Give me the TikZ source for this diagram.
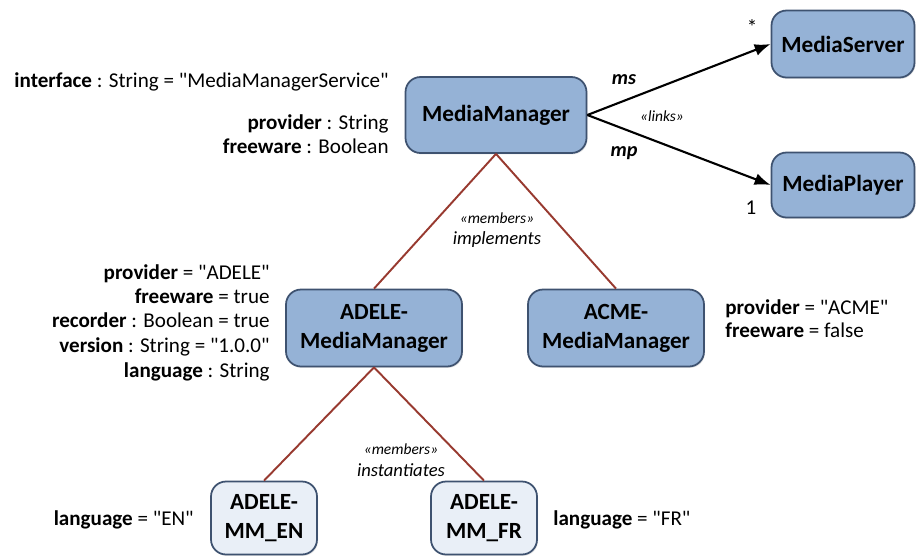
\documentclass[tikz,border=0pt]{standalone}
\usepackage{fontspec}
\setmainfont{Carlito}
\usetikzlibrary{arrows.meta, shadows}
\definecolor{BoxBlue}{RGB}{149,178,214}
\definecolor{BoxPale}{RGB}{233,239,247}
\definecolor{BoxEdge}{RGB}{62,82,112}
\definecolor{TreeRed}{RGB}{152,58,48}
\newcommand{\qval}[1]{\textquotedbl#1\textquotedbl}

\begin{document}
\begin{tikzpicture}[
    x=0.02cm, y=-0.02cm,
    box/.style={draw=BoxEdge, line width=1pt, rounded corners=0.3cm, fill=BoxBlue,
        align=center, inner sep=1pt, font=\fontsize{13.2}{16.5}\selectfont\bfseries,
        drop shadow={opacity=0.2, shadow xshift=0.6pt, shadow yshift=-0.8pt}},
    inst/.style={box, fill=BoxPale},
    attr/.style={inner sep=0pt, font=\fontsize{12}{14}\selectfont},
    role/.style={inner sep=0pt, font=\fontsize{11.5}{13}\selectfont\bfseries\itshape},
    mult/.style={inner sep=0pt, font=\fontsize{12}{14}\selectfont},
    stereo/.style={inner sep=0pt, font=\fontsize{8.8}{10}\selectfont\itshape},
    verb/.style={inner sep=0pt, font=\fontsize{10.6}{12.5}\selectfont\itshape},
    tree/.style={draw=TreeRed, line width=1.1pt},
    link/.style={-{Latex[length=3.2mm, width=2.4mm]}, line width=1.2pt},
]

\useasboundingbox (0,0) rectangle (917,556);

% ---- classes ----
\node[box, minimum width=3.62cm, minimum height=1.52cm] (mm) at (496,115) {MediaManager};
\node[box, minimum width=2.86cm, minimum height=1.34cm] (server) at (843,44) {MediaServer};
\node[box, minimum width=2.86cm, minimum height=1.30cm] (player) at (843,185) {MediaPlayer};
\node[box, minimum width=3.52cm, minimum height=1.54cm] (adele) at (374,328) {ADELE-\\MediaManager};
\node[box, minimum width=3.52cm, minimum height=1.54cm] (acme) at (616,328) {ACME-\\MediaManager};

% ---- instances ----
\node[inst, minimum width=2.12cm, minimum height=1.46cm] (en) at (264,518) {ADELE-\\MM\_EN};
\node[inst, minimum width=2.12cm, minimum height=1.46cm] (fr) at (484,518) {ADELE-\\MM\_FR};

% ---- links ----
\draw[link] (mm.east) -- (server.west);
\draw[link] (mm.east) -- (player.west);
\node[role] (ms) at (624,80) {ms};
\node[role] (mp) at (624,153) {mp};
\node[stereo] (links) at (662,116) {«links»};
\node[mult] (many) at (752,27) {*};
\node[mult] (one) at (751,208) {1};

% ---- members ----
\draw[tree] (mm.south) -- (adele.north);
\draw[tree] (mm.south) -- (acme.north);
\node[stereo] (impl-st) at (497,218) {«members»};
\node[verb] (impl) at (497,240) {implements};

\draw[tree] (adele.south) -- (en.north);
\draw[tree] (adele.south) -- (fr.north);
\node[stereo] (inst-st) at (401,449) {«members»};
\node[verb] (inst) at (401,470) {instantiates};

% ---- attributes ----
\node[attr, anchor=base east] (mm-a0) at (389,87) {\textbf{interface} : String = \qval{MediaManagerService}};
\foreach \y/\txt [count=\k] in {129/{\textbf{provider} : String}, 153/{\textbf{freeware} : Boolean}}
    \node[attr, anchor=base east] (mm-a\k) at (389,\y) {\txt};

\foreach \y/\txt [count=\k] in {%
    279/{\textbf{provider} = \qval{ADELE}},
    303/{\textbf{freeware} = true},
    327/{\textbf{recorder} : Boolean = true},
    352/{\textbf{version} : String = \qval{1.0.0}},
    377/{\textbf{language} : String}}
    \node[attr, anchor=base east] (adele-a\k) at (270,\y) {\txt};

\foreach \y/\txt [count=\k] in {314/{\textbf{provider} = \qval{ACME}}, 337/{\textbf{freeware} = false}}
    \node[attr, anchor=base west] (acme-a\k) at (725,\y) {\txt};

\node[attr, anchor=base east] (en-a) at (194,525) {\textbf{language} = \qval{EN}};
\node[attr, anchor=base west] (fr-a) at (553,525) {\textbf{language} = \qval{FR}};

\end{tikzpicture}
\end{document}
